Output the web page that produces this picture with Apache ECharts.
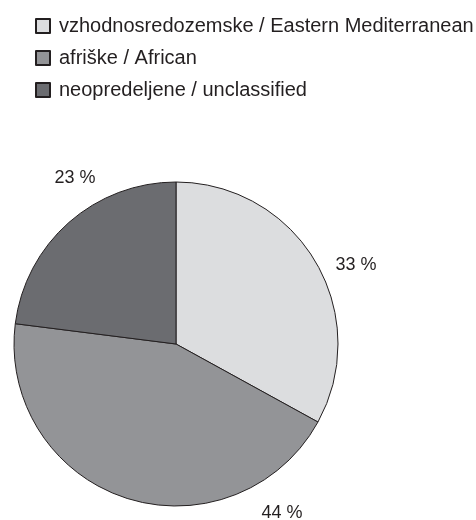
<!DOCTYPE html>
<html>
<head>
<meta charset="utf-8">
<script src="https://cdn.jsdelivr.net/npm/echarts@6/dist/echarts.min.js"></script>
<style>
html,body{margin:0;padding:0;background:#fff;}
#chart{width:476px;height:520px;}
</style>
</head>
<body>
<div id="chart"></div>
<script>
var categories = ['vzhodnosredozemske / Eastern Mediterranean', 'afriške / African', 'neopredeljene / unclassified'];
var values = [33, 44, 23];
var labelTexts = ['33 %', '44 %', '23 %'];
var colors = ['#dcdddf', '#939497', '#6b6c70'];
// label anchors as offsets from pie centre (px)
var labelOffsets = [[180, -79], [106, 169], [-101, -166]];

var center = [176, 344];
var chart = echarts.init(document.getElementById('chart'));
chart.setOption({
  animation: false,
  textStyle: { fontFamily: 'Liberation Sans, Arial, sans-serif', color: '#231f20' },
  legend: {
    orient: 'vertical',
    left: 35,
    top: 16,
    padding: 0,
    itemWidth: 14,
    itemHeight: 14,
    itemGap: 12,
    icon: 'rect',
    selectedMode: false,
    textStyle: { fontSize: 20, color: '#231f20', padding: [0, 0, 0, 4] },
    data: categories
  },
  series: [{
    type: 'pie',
    center: center,
    radius: 162,
    startAngle: 90,
    clockwise: true,
    silent: true,
    itemStyle: { borderColor: '#231f20', borderWidth: 1 },
    label: {
      show: true,
      position: 'outside',
      alignTo: 'none',
      overflow: 'none',
      fontSize: 18,
      color: '#231f20',
      formatter: function (p) { return labelTexts[p.dataIndex]; }
    },
    labelLine: { show: false },
    labelLayout: function (p) {
      var o = labelOffsets[p.dataIndex];
      return { x: center[0] + o[0], y: center[1] + o[1], align: 'center', verticalAlign: 'middle' };
    },
    data: categories.map(function (c, i) {
      return { name: c, value: values[i], itemStyle: { color: colors[i] } };
    })
  }]
});
</script>
</body>
</html>
